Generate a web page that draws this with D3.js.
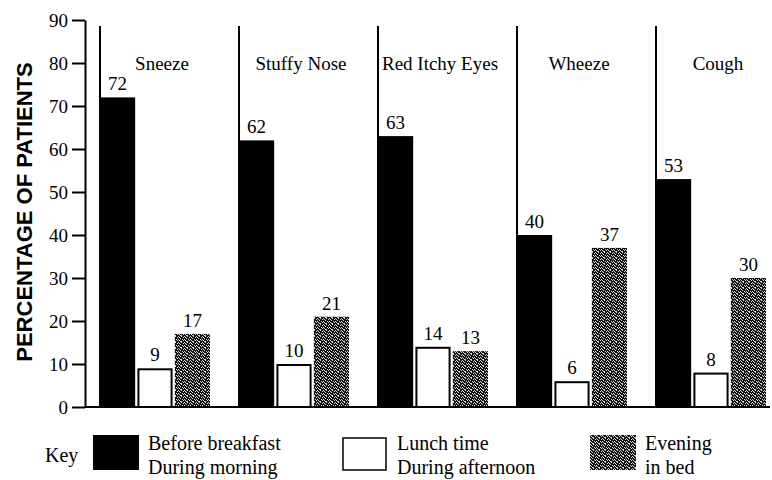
<!DOCTYPE html>
<html lang="en">
	<head>
		<meta charset="utf-8">
		<title>Symptoms by time of day</title>
		<script src="https://d3js.org/d3.v7.min.js"></script>
		<style>
			body { margin: 0; background: #fff; }
			.serif { font-family: "Liberation Serif", "Times New Roman", Tinos, "Nimbus Roman", "Noto Serif", FreeSerif, "DejaVu Serif", serif; }
			.title { font-family: "Liberation Sans", Arial, sans-serif; font-weight: bold; }
		</style>
	</head>
	<body>
		<script type="text/javascript">
			// window size setup
			var w = 772
			var h = 480

			// data
			var symptoms = ["Sneeze", "Stuffy Nose", "Red Itchy Eyes", "Wheeze", "Cough"]
			var series = ["morning", "afternoon", "evening"]
			var morning = [72, 62, 63, 40, 53]
			var afternoon = [9, 10, 14, 6, 8]
			var evening = [17, 21, 13, 37, 30]
			var yTicks = [0, 10, 20, 30, 40, 50, 60, 70, 80, 90]
			var keyLabels = [["Before breakfast", "During morning"], ["Lunch time", "During afternoon"], ["Evening", "in bed"]]

			var values = { morning: morning, afternoon: afternoon, evening: evening }

			// scales
			var xGroup = d3.scaleBand()
							.domain(symptoms)
							.range([100, 100 + 139 * symptoms.length])
			var xBar = d3.scaleBand()
							.domain(series)
							.range([0, 110])
							.paddingInner(0.06)
			var yScale = d3.scaleLinear()
							.domain([0, 90])
							.range([407, 20])

			var svg = d3.select("body")
						.append("svg")
						.attr("width", w)
						.attr("height", h)

			// stippled grey fill (irregular 6x6 tile)
			var pat = svg.append("defs")
						.append("pattern")
						.attr("id", "stipple")
						.attr("width", 6)
						.attr("height", 6)
						.attr("patternUnits", "userSpaceOnUse")
			pat.append("rect").attr("width", 6).attr("height", 6).attr("fill", "#111")
			var dots = [[0, 0], [3, 0], [1, 1], [5, 1], [2, 2], [4, 3], [0, 3], [1, 4], [3, 5], [5, 4], [2, 5]]
			pat.selectAll("rect.dot")
				.data(dots)
				.enter()
				.append("rect")
				.attr("class", "dot")
				.attr("x", function(d){ return d[0] })
				.attr("y", function(d){ return d[1] })
				.attr("width", 1)
				.attr("height", 1)
				.attr("fill", "#d8d8d8")

			var fills = { morning: "#000", afternoon: "#fff", evening: "url(#stipple)" }

			// group separators
			svg.selectAll("line.sep")
				.data(symptoms)
				.enter()
				.append("line")
				.attr("class", "sep")
				.attr("x1", function(d){ return xGroup(d) })
				.attr("x2", function(d){ return xGroup(d) })
				.attr("y1", 26)
				.attr("y2", yScale(0))
				.attr("stroke", "#000")
				.attr("stroke-width", 2)

			// category labels
			svg.selectAll("text.cat")
				.data(symptoms)
				.enter()
				.append("text")
				.attr("class", "cat serif")
				.text(function(d){ return d })
				.attr("x", function(d){ return xGroup(d) + 62 })
				.attr("y", 70)
				.attr("text-anchor", "middle")
				.style("font-size", "19px")

			// bars
			var groups = svg.selectAll("g.grp")
							.data(symptoms)
							.enter()
							.append("g")
							.attr("class", "grp")
							.attr("transform", function(d){ return "translate(" + xGroup(d) + ",0)" })

			var cells = groups.selectAll("g.cell")
							.data(function(d, i){
								return series.map(function(s){ return { s: s, v: values[s][i] } })
							})
							.enter()
							.append("g")
							.attr("class", "cell")

			cells.append("rect")
				.attr("x", function(d){ return xBar(d.s) + (d.s == "afternoon" ? 1 : 0) })
				.attr("y", function(d){ return yScale(d.v) + (d.s == "afternoon" ? 1 : 0) })
				.attr("width", function(d){ return xBar.bandwidth() - (d.s == "afternoon" ? 2 : 0) })
				.attr("height", function(d){ return yScale(0) - yScale(d.v) - (d.s == "afternoon" ? 1 : 0) })
				.attr("fill", function(d){ return fills[d.s] })
				.attr("stroke", function(d){ return d.s == "afternoon" ? "#000" : "none" })
				.attr("stroke-width", 2)

			cells.append("text")
				.attr("class", "serif")
				.text(function(d){ return d.v })
				.attr("x", function(d){ return xBar(d.s) + xBar.bandwidth() / 2 })
				.attr("y", function(d){ return yScale(d.v) - 7 })
				.attr("text-anchor", "middle")
				.style("font-size", "19px")

			// y axis
			var yAxis = d3.axisLeft(yScale)
							.tickValues(yTicks)
							.tickSize(13)
							.tickSizeOuter(0)
							.tickPadding(4)
			var ax = svg.append("g")
						.attr("transform", "translate(85,0)")
						.call(yAxis)
			ax.select(".domain").attr("stroke-width", 2)
			ax.selectAll(".tick line").attr("stroke-width", 2)
			ax.selectAll(".tick text")
				.attr("class", "serif")
				.style("font-size", "19px")
				.attr("fill", "#000")

			// baseline
			svg.append("line")
				.attr("x1", 85)
				.attr("x2", 770)
				.attr("y1", yScale(0))
				.attr("y2", yScale(0))
				.attr("stroke", "#000")
				.attr("stroke-width", 2)

			svg.append("text")
				.attr("class", "title")
				.text("PERCENTAGE OF PATIENTS")
				.attr("transform", "translate(32,212) rotate(-90)")
				.attr("text-anchor", "middle")
				.style("font-size", "22px")

			// key
			svg.append("text")
				.attr("class", "serif")
				.text("Key")
				.attr("x", 45)
				.attr("y", 462)
				.style("font-size", "20px")

			var keyX = [93, 342, 590]
			var key = svg.selectAll("g.key")
						.data(series)
						.enter()
						.append("g")
						.attr("class", "key")
						.attr("transform", function(d, i){ return "translate(" + keyX[i] + ",0)" })

			key.append("rect")
				.attr("x", function(d){ return d == "afternoon" ? 1 : 0 })
				.attr("y", function(d){ return d == "afternoon" ? 438 : 435 })
				.attr("width", function(d){ return d == "afternoon" ? 43 : 46 })
				.attr("height", function(d){ return d == "afternoon" ? 32 : 35 })
				.attr("fill", function(d){ return fills[d] })
				.attr("stroke", function(d){ return d == "afternoon" ? "#000" : "none" })
				.attr("stroke-width", 1.5)

			var keyText = key.append("text")
							.attr("class", "serif")
							.style("font-size", "20px")
			keyText.selectAll("tspan")
				.data(function(d, i){ return keyLabels[i] })
				.enter()
				.append("tspan")
				.attr("x", 55)
				.attr("y", function(d, i){ return 450 + i * 24 })
				.text(function(d){ return d })
		</script>
	</body>
</html>
